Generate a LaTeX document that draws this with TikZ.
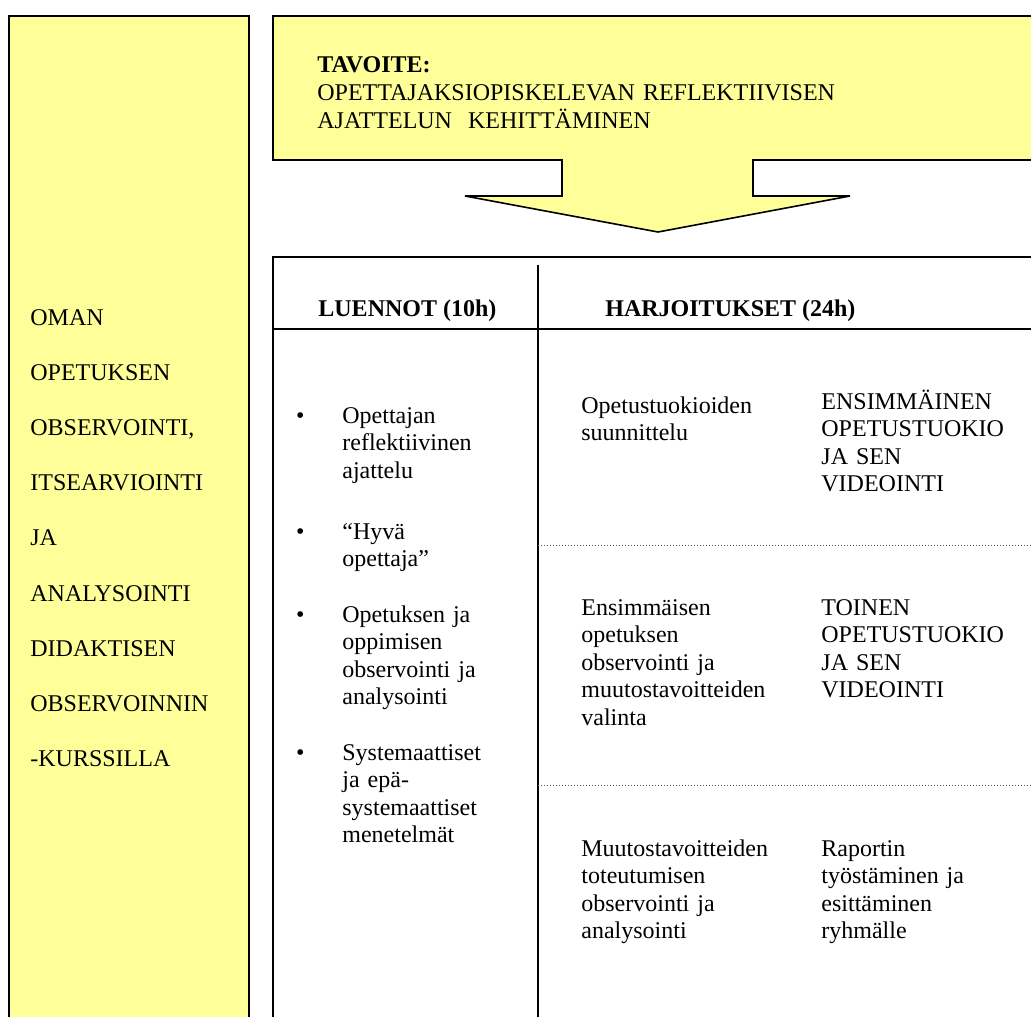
\documentclass[tikz,border=0pt]{standalone}
\usepackage{fontspec}
\setmainfont{Liberation Serif}

\definecolor{notepad}{HTML}{FFFF99}
\tikzset{
  yellowbox/.style={fill=notepad, draw=black, line width=0.8pt},
  tableline/.style={draw=black, line width=0.8pt},
  rowline/.style={draw=black!70, line width=0.5pt, densely dotted},
  celltext/.style={inner sep=0pt, anchor=base west, align=left, text width=#1,
    font=\fontsize{12}{13.8}\selectfont},
  celltext/.default=120pt,
  headtext/.style={inner sep=0pt, anchor=base west, font=\fontsize{12}{13.8}\selectfont\bfseries},
  sidetext/.style={celltext=110pt, font=\fontsize{12}{27.6}\selectfont},
}
\newcommand{\itembullet}{\llap{\textbullet\hspace{19pt}}}

\begin{document}
\begin{tikzpicture}[x=0.5pt,y=-0.5pt]
\useasboundingbox (0,0) rectangle (1031,1016);

% Side column
\filldraw[yellowbox] (9,16) rectangle (249,1040);
\node[sidetext] (side) at (30,325) {OMAN\\OPETUKSEN\\OBSERVOINTI,\\ITSEARVIOINTI\\JA\\ANALYSOINTI\\DIDAKTISEN\\OBSERVOINNIN\\-KURSSILLA};

% Goal box and its arrow
\filldraw[yellowbox] (273,16) -- (1045,16) -- (1045,160) -- (753,160) -- (753,196) -- (850,196)
  -- (658,232) -- (465,196) -- (562,196) -- (562,160) -- (273,160) -- cycle;
\node[celltext=300pt] (goal) at (317,73) {\textbf{TAVOITE:}\\OPETTAJAKSIOPISKELEVAN REFLEKTIIVISEN\\AJATTELUN\ \ KEHITTÄMINEN};

% Table
\draw[tableline] (1045,257) -- (273,257) -- (273,1040);
\draw[tableline] (273,329) -- (1045,329);
\draw[tableline] (538,265) -- (538,1040);
\foreach \y in {545,785}
  \draw[rowline] (538,\y) -- (1045,\y);

% Headers
\node[headtext] (lectures) at (318,316) {LUENNOT (10h)};
\node[headtext] (exercises) at (605,316) {HARJOITUKSET (24h)};

% Lectures
\node[celltext=95pt] (lec1) at (342,423) {\itembullet Opettajan\\reflektiivinen\\ajattelu};
\node[celltext=95pt] (lec2) at (342,539) {\itembullet “Hyvä\\opettaja”};
\node[celltext=95pt] (lec3) at (342,622) {\itembullet Opetuksen ja\\oppimisen\\observointi ja\\analysointi};
\node[celltext=95pt] (lec4) at (342,760) {\itembullet Systemaattiset\\ja epä-\\systemaattiset\\menetelmät};

% Exercises
\node[celltext] (ex1) at (581,413) {Opetustuokioiden\\suunnittelu};
\node[celltext] (ex1b) at (821,409) {ENSIMMÄINEN\\OPETUSTUOKIO\\JA SEN\\VIDEOINTI};
\node[celltext] (ex2) at (581,615) {Ensimmäisen\\opetuksen\\observointi ja\\muutostavoitteiden\\valinta};
\node[celltext] (ex2b) at (821,615) {TOINEN\\OPETUSTUOKIO\\JA SEN\\VIDEOINTI};
\node[celltext] (ex3) at (581,856) {Muutostavoitteiden\\toteutumisen\\observointi ja\\analysointi};
\node[celltext] (ex3b) at (821,856) {Raportin\\työstäminen ja\\esittäminen\\ryhmälle};
\end{tikzpicture}
\end{document}
